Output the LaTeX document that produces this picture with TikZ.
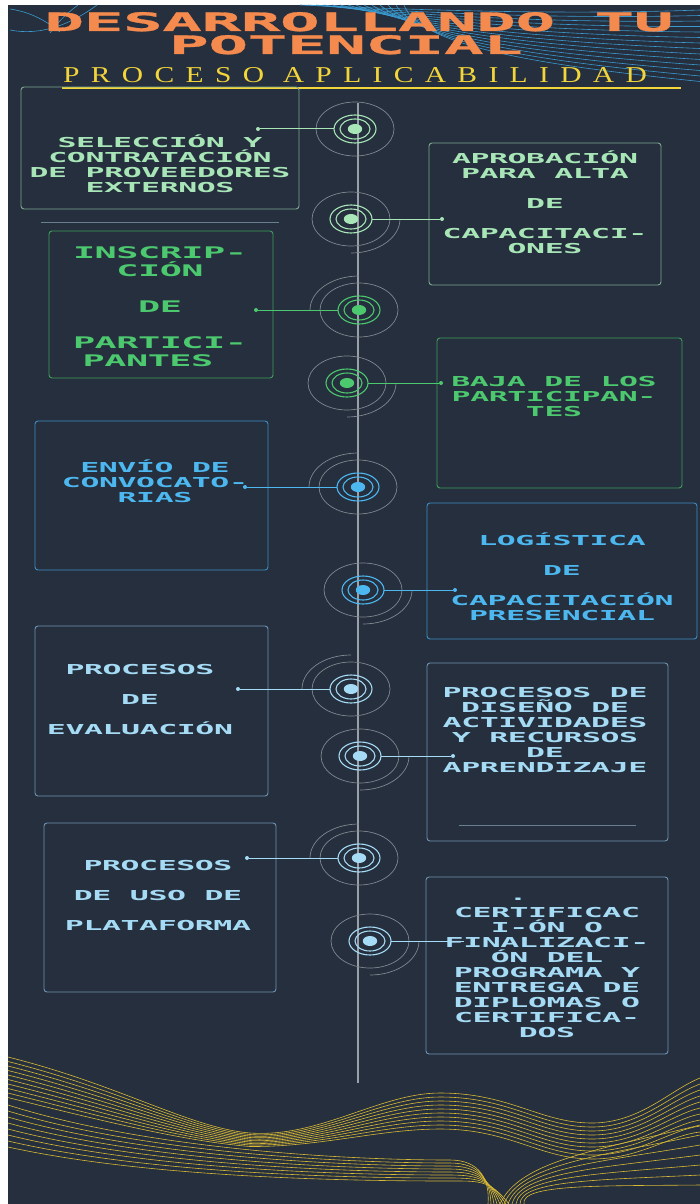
\documentclass[tikz,border=0pt]{standalone}
\usepackage{fontspec}
\usepackage{tikz}
\usetikzlibrary{shapes.geometric}

% squarish lettering, widened
\newfontfamily\techfont{DejaVu Sans Mono}[FakeStretch=2.3,LetterSpace=-3]
\newfontfamily\headfont{DejaVu Sans Mono}[FakeStretch=2.6,FakeBold=1.2,LetterSpace=-2]
\newfontfamily\capsfont{Liberation Serif}[FakeStretch=1.3,LetterSpace=50]

\definecolor{navy}{HTML}{252F3D}
\definecolor{flame}{HTML}{F58A4E}
\definecolor{gold}{HTML}{F2D43B}
\definecolor{wavegold}{HTML}{D8B935}
\definecolor{mint}{HTML}{A8E6B8}
\definecolor{leaf}{HTML}{4CC86E}
\definecolor{sky}{HTML}{4DB8F0}
\definecolor{ice}{HTML}{A6DBF5}
\definecolor{mintedge}{HTML}{7FA88E}
\definecolor{leafedge}{HTML}{3F9E5C}
\definecolor{skyedge}{HTML}{3C8DC4}
\definecolor{iceedge}{HTML}{6F93B3}
\definecolor{halogray}{HTML}{7F8790}
\definecolor{spinegray}{HTML}{9AA0A8}
\definecolor{rulegray}{HTML}{6A7F90}
\definecolor{streakblue}{HTML}{3A9AD0}

\begin{document}
\begin{tikzpicture}[x=1pt, y=-1pt,
    box/.style={draw=#1, rounded corners=3pt, line width=0.9pt, inner sep=0pt, outer sep=0pt},
    txt/.style={text=#1, font=\techfont\bfseries\fontsize{13.7}{15}\selectfont,
                align=center, inner sep=0pt, anchor=base},
    bigtxt/.style={txt=#1, font=\techfont\bfseries\fontsize{16}{18}\selectfont},
    ring/.style={ellipse, draw=#1, line width=1.1pt, minimum width=42pt,
                 minimum height=28pt, inner sep=0pt, outer sep=0pt},
    halo/.style={draw=halogray, line width=0.7pt},
    link/.style={draw=#1, line width=1pt},
    endpt/.style={circle, fill=#1, inner sep=0pt, minimum size=4pt},
    spine/.style={draw=spinegray, line width=1.3pt},
    rule/.style={draw=#1, line width=0.8pt},
    wave/.style={draw=wavegold, line width=0.6pt},
    streak/.style={draw=streakblue, line width=0.6pt}
  ]
  \useasboundingbox (0,0) rectangle (700,1204);
  \fill[white] (0,0) rectangle (700,1204);
  \fill[navy] (8,5) rectangle (700,1204);

  % ---------------- header ----------------
  \foreach \i in {0,...,13}
    \draw[streak] (300+8*\i,5) .. controls (420,10+3*\i) and (560,15+4*\i) .. (700,10+5.5*\i);
  \draw[streak] (10,9) .. controls (30,12) and (45,20) .. (60,32);
  \draw[streak] (10,30) .. controls (40,36) and (70,25) .. (97,5);
  \draw[streak] (50,33) .. controls (58,22) and (66,14) .. (78,5);

  % multi-line nodes sit on the baseline of their last line
  \node[text=flame, font=\headfont\bfseries\fontsize{25.4}{23}\selectfont, align=center,
        inner sep=0pt, anchor=base] (title) at (359,54) {DESARROLLANDO TU\\POTENCIAL\hspace*{26pt}};
  \node[text=gold, font=\capsfont\fontsize{22.7}{24}\selectfont, inner sep=0pt,
        anchor=base west] (subtitle) at (63,83) {PROCESO APLICABILIDAD};
  \draw[gold, line width=1.6pt] (62,88) -- (681,88);

  % ---------------- timeline ----------------
  \coordinate (top) at (358,103);
  \coordinate (bottom) at (358,1083);
  \draw[spine] (top) -- (bottom);

  % boxes
  \node[box=mintedge, minimum width=278, minimum height=122] (b1) at (160,148) {};
  \node[box=mintedge, minimum width=232, minimum height=142] (b2) at (545,214) {};
  \node[box=leafedge, minimum width=224, minimum height=147] (b3) at (161,304.5) {};
  \node[box=leafedge, minimum width=245, minimum height=150] (b4) at (559.5,413) {};
  \node[box=skyedge,  minimum width=233, minimum height=149] (b5) at (151.5,495.5) {};
  \node[box=skyedge,  minimum width=270, minimum height=136] (b6) at (562,571) {};
  \node[box=iceedge,  minimum width=233, minimum height=170] (b7) at (151.5,711) {};
  \node[box=iceedge,  minimum width=241, minimum height=178] (b8) at (547.5,752) {};
  \node[box=iceedge,  minimum width=232, minimum height=169] (b9) at (160,907.5) {};
  \node[box=iceedge,  minimum width=242, minimum height=177] (b10) at (547,965.5) {};
  \draw[rule=rulegray] (41,222) -- (279,222);
  \draw[rule=rulegray] (459,825) -- (636,825);

  % texts
  \node[txt=mint] (l1) at (160,192) {SELECCIÓN Y\\CONTRATACIÓN\\DE PROVEEDORES\\EXTERNOS};
  \node[txt=mint] (l2) at (545,253) {APROBACIÓN\\PARA ALTA\\[15pt]DE\\[15pt]CAPACITACI-\\ONES};
  \node[bigtxt=leaf] (l3) at (160,366) {INSCRIP-\\CIÓN\hspace*{30pt}\\[18pt]DE\hspace*{12pt}\\[18pt]PARTICI-\\PANTES\hspace*{24pt}};
  \node[txt=leaf] (l4) at (554,416) {BAJA DE LOS\\PARTICIPAN-\\TES};
  \node[txt=sky] (l5) at (155,502) {ENVÍO DE\\CONVOCATO-\\RIAS};
  \node[txt=sky] (l6) at (562,620) {LOGÍSTICA\\[15pt]DE\\[15pt]CAPACITACIÓN\\PRESENCIAL};
  \node[txt=ice] (l7) at (140,734) {PROCESOS\\[15pt]DE\\[15pt]EVALUACIÓN};
  \node[txt=ice] (l8) at (545,772) {PROCESOS DE\\DISEÑO DE\\ACTIVIDADES\\Y RECURSOS\\DE\\APRENDIZAJE};
  \node[txt=ice] (l9) at (158,930) {PROCESOS\\[15pt]DE USO DE\\[15pt]PLATAFORMA};
  \node[txt=ice] (l10) at (547,1037) {.\hspace*{58pt}\\[2pt]CERTIFICAC\\I-ÓN O\\FINALIZACI-\\ÓN DEL\\PROGRAMA Y\\ENTREGA DE\\DIPLOMAS O\\CERTIFICA-\\DOS};

  % targets on the line
  \foreach \n/\cx/\cy/\col in {1/355/129/mint, 2/351/219/mint, 3/359/310/leaf, 4/347/383/leaf,
      5/358/487/sky, 6/363/590/sky, 7/351/689/ice, 8/360/756/ice, 9/359/858/ice, 10/370/941/ice} {
    \node[ring=\col] (t\n) at (\cx,\cy) {};
    \draw[\col, line width=1.1pt] (t\n.center) ellipse [x radius=15pt, y radius=10pt];
    \fill[\col] (t\n.center) ellipse [x radius=7.2pt, y radius=5pt];
    \draw[halo] (t\n.center) ellipse [x radius=39pt, y radius=27pt];
  }
  \foreach \n in {3,5,7,9}
    \draw[halo] ([xshift=-49pt]t\n.center) arc [start angle=180, end angle=90, x radius=49pt, y radius=34pt];
  \foreach \n in {2,4,6,8,10}
    \draw[halo] ([xshift=49pt]t\n.center) arc [start angle=0, end angle=-90, x radius=49pt, y radius=34pt];

  % connectors
  \node[endpt=mint] (d1) at (258,129) {};
  \node[endpt=mint] (d2) at (442,219) {};
  \node[endpt=leaf] (d3) at (256,310) {};
  \node[endpt=leaf] (d4) at (441,383) {};
  \node[endpt=sky]  (d5) at (245,487) {};
  \node[endpt=sky]  (d6) at (455,590) {};
  \node[endpt=ice]  (d7) at (238,689) {};
  \node[endpt=ice]  (d8) at (453,756) {};
  \node[endpt=ice]  (d9) at (247,858) {};
  \coordinate (d10) at (464,941);
  \draw[link=mint] (d1) -- (t1.west);
  \draw[link=mint] (t2.east) -- (d2);
  \draw[link=leaf] (d3) -- (t3.west);
  \draw[link=leaf] (t4.east) -- (d4);
  \draw[link=sky]  (d5) -- (t5.west);
  \draw[link=sky]  (t6.east) -- (d6);
  \draw[link=ice]  (d7) -- (t7.west);
  \draw[link=ice]  (t8.east) -- (d8);
  \draw[link=ice]  (d9) -- (t9.west);
  \draw[link=ice]  (t10.east) -- (d10);

  % ---------------- footer waves ----------------
  \foreach \i in {0,...,9}
    \draw[wave] (8,1057+4.5*\i) .. controls (120,1085+4.5*\i) and (190,1128+1.5*\i) .. (250,1133+1.5*\i)
      .. controls (320,1138+\i) and (380,1093+4*\i) .. (440,1093+4*\i)
      .. controls (510,1093+4*\i) and (540,1123+4*\i) .. (592,1123+4*\i)
      .. controls (640,1123+4*\i) and (670,1090+5*\i) .. (700,1078+6*\i);
  \foreach \i in {0,...,7}
    \draw[wave] (8,1105+6*\i) .. controls (150,1150+4*\i) and (350,1160+3*\i) .. (450,1160+3*\i)
      .. controls (480,1160+3*\i) and (490,1180) .. (488+3*\i,1204);
  \foreach \i in {0,...,6}
    \draw[wave] (700,1125+10*\i) .. controls (600,1150+6*\i) and (520,1160+4*\i) .. (500+4*\i,1204);
\end{tikzpicture}
\end{document}
